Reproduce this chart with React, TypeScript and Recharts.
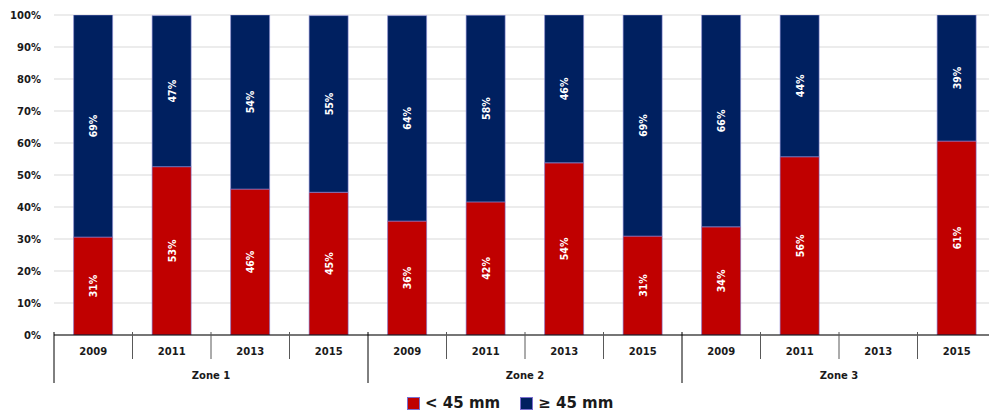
import { Bar, BarChart, CartesianGrid, LabelList, XAxis, YAxis } from 'recharts';

const years = ['2009', '2011', '2013', '2015', '2009', '2011', '2013', '2015', '2009', '2011', '2013', '2015'];
const zones = ['Zone 1', 'Zone 2', 'Zone 3'];
const below45 = [30.6, 52.6, 45.6, 44.6, 35.6, 41.6, 53.8, 30.9, 33.8, 55.7, null, 60.6];
const above45 = [69.4, 47.2, 54.4, 55.2, 64.2, 58.3, 46.2, 69.1, 66.2, 44.3, null, 39.4];
const yTicks = [0, 10, 20, 30, 40, 50, 60, 70, 80, 90, 100];

const RED = '#C00000';
const NAVY = '#002060';
const FONT = '"DejaVu Sans", Verdana, sans-serif';

const CHART_W = 996;
const AXIS_W = 54;
const catW = (CHART_W - AXIS_W) / years.length;

const data = years.map((year, i) => ({
  key: `${zones[Math.floor(i / 4)]}-${year}-${i}`,
  year,
  small: below45[i],
  large: above45[i],
}));

function YearTick(props: any) {
  const { x, y, index } = props;
  const year = years[index];
  const left = x - catW / 2;
  const zoneStart = index % 4 === 0;
  return (
    <g>
      <line
        x1={left}
        x2={left}
        y1={y - 3}
        y2={zoneStart ? y + 48 : y + 24}
        stroke={zoneStart ? '#000' : '#595959'}
        strokeWidth={1}
      />
      {index === years.length - 1 && (
        <line x1={x + catW / 2} x2={x + catW / 2} y1={y - 3} y2={y + 48} stroke="#000" />
      )}
      <text x={x} y={y + 17} textAnchor="middle" dominantBaseline="middle" fontFamily={FONT} fontSize={10} fontWeight="bold" fill="#1a1a1a">
        {year}
      </text>
      {index % 4 === 1 && (
        <text x={x + catW / 2} y={y + 41} textAnchor="middle" dominantBaseline="middle" fontFamily={FONT} fontSize={10} fontWeight="bold" fill="#1a1a1a">
          {zones[Math.floor(index / 4)]}
        </text>
      )}
    </g>
  );
}

function renderValue(props: any) {
  const { x, y, width, height, value } = props;
  if (value == null) return null;
  const cx = Number(x) + Number(width) / 2;
  const cy = Number(y) + Number(height) / 2;
  return (
    <text
      x={cx}
      y={cy}
      transform={`rotate(-90, ${cx}, ${cy})`}
      textAnchor="middle"
      dominantBaseline="central"
      fill="#fff"
      fontFamily='"DejaVu Sans Condensed", "DejaVu Sans", sans-serif'
      fontSize={10.5}
      fontWeight="bold"
    >
      {`${Math.round(value)}%`}
    </text>
  );
}

function LegendBox({ color, label }: { color: string; label: string }) {
  return (
    <div style={{ display: 'flex', alignItems: 'center', marginRight: 20 }}>
      <span style={{ width: 11, height: 11, background: color, border: '1px solid #7b6fd0', marginRight: 5 }} />
      <span style={{ fontFamily: FONT, fontSize: 15, fontWeight: 'bold', color: '#1a1a1a' }}>{label}</span>
    </div>
  );
}

export default function App() {
  return (
    <div style={{ position: 'absolute', left: 0, top: 0, width: 989, height: 412, overflow: 'hidden', background: '#fff' }}>
      <BarChart
        width={CHART_W}
        height={412}
        data={data}
        margin={{ top: 15, right: 0, bottom: 0, left: 0 }}
        barCategoryGap="25%"
      >
        <CartesianGrid vertical={false} stroke="#d9d9d9" />
        <YAxis
          width={AXIS_W}
          domain={[0, 100]}
          ticks={yTicks}
          allowDataOverflow
          axisLine={false}
          tickLine={false}
          tickMargin={7}
          tickFormatter={(v) => `${v}%`}
          tick={{ fontFamily: FONT, fontSize: 10, fontWeight: 'bold', fill: '#1a1a1a' }}
        />
        <XAxis
          dataKey="key"
          height={77}
          interval={0}
          tickSize={0}
          tickMargin={0}
          tickLine={false}
          axisLine={{ stroke: '#000', strokeWidth: 1 }}
          tick={<YearTick />}
        />
        <Bar dataKey="small" stackId="a" fill={RED} stroke="#7b6fd0" strokeWidth={0.6} isAnimationActive={false}>
          <LabelList dataKey="small" content={renderValue} />
        </Bar>
        <Bar dataKey="large" stackId="a" fill={NAVY} stroke="#8f8fd8" strokeWidth={0.6} isAnimationActive={false}>
          <LabelList dataKey="large" content={renderValue} />
        </Bar>
      </BarChart>
      <div style={{ position: 'absolute', left: 407, top: 394, display: 'flex' }}>
        <LegendBox color={RED} label="< 45 mm" />
        <LegendBox color={NAVY} label="≥ 45 mm" />
      </div>
    </div>
  );
}
